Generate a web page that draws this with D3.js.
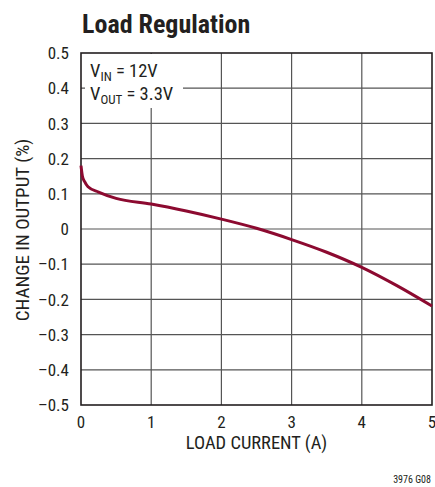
<!DOCTYPE html>
<html><head><meta charset="utf-8">
<script src="https://cdn.jsdelivr.net/npm/d3@7"></script>
<style>
body{margin:0;background:#fff;}
svg text{font-family:"Liberation Sans Narrow","Roboto Condensed","Arial Narrow",sans-serif;fill:#231f20;}
</style></head>
<body><svg id="c" width="435" height="487"></svg>
<script>
const loadCurrent = [0, 0.02, 0.05, 0.1, 0.25, 0.5, 1.0, 1.5, 2.0, 2.5, 3.0, 3.5, 4.0, 4.5, 5.0];
const changePct   = [0.18, 0.15, 0.135, 0.12, 0.105, 0.087, 0.071, 0.051, 0.028, 0.002, -0.030, -0.066, -0.109, -0.161, -0.219];
const xTicks = [0, 1, 2, 3, 4, 5];
const yTicks = [0.5, 0.4, 0.3, 0.2, 0.1, 0, -0.1, -0.2, -0.3, -0.4, -0.5];

const svg = d3.select("#c");
const L = 81, R = 432, T = 53, B = 405;
const x = d3.scaleLinear().domain([0, 5]).range([L, R]);
const y = d3.scaleLinear().domain([-0.5, 0.5]).range([B, T]);
const fmt = v => v === 0 ? "0" : (v < 0 ? "\u2013" + d3.format(".1f")(-v) : d3.format(".1f")(v));

const grid = svg.append("g").attr("stroke", "#555").attr("stroke-width", 1.2);
xTicks.slice(1, -1).forEach(t => grid.append("line").attr("x1", x(t)).attr("x2", x(t)).attr("y1", T).attr("y2", B));
yTicks.slice(1, -1).forEach(t => grid.append("line").attr("x1", L).attr("x2", R).attr("y1", y(t)).attr("y2", y(t)));

// white box behind the annotation
svg.append("rect").attr("x", L + 4).attr("y", T + 1).attr("width", 98).attr("height", 54).attr("fill", "#fff");

svg.append("rect").attr("x", L).attr("y", T).attr("width", R - L).attr("height", B - T)
  .attr("fill", "none").attr("stroke", "#231f20").attr("stroke-width", 1.6);

const line = d3.line().x((d, i) => x(loadCurrent[i])).y(d => y(d)).curve(d3.curveMonotoneX);
svg.append("path").datum(changePct).attr("d", line).attr("fill", "none")
  .attr("stroke", "#8c0a30").attr("stroke-width", 3).attr("stroke-linejoin", "round");

// axes labels
svg.append("g").selectAll("text").data(yTicks).join("text")
  .attr("x", 69).attr("y", d => y(d)).attr("dy", "0.36em").attr("text-anchor", "end")
  .attr("font-size", 17).text(fmt);
svg.append("g").selectAll("text").data(xTicks).join("text")
  .attr("x", d => x(d)).attr("y", 422).attr("dy", "0.36em").attr("text-anchor", "middle")
  .attr("font-size", 17).text(d => d);

svg.append("text").attr("x", (L + R) / 2).attr("y", 449).attr("text-anchor", "middle")
  .attr("font-size", 18.5).text("LOAD CURRENT (A)");
svg.append("text").attr("transform", `translate(22,${(T + B) / 2 + 1}) rotate(-90)`).attr("dy", "0.36em")
  .attr("text-anchor", "middle").attr("font-size", 19).text("CHANGE IN OUTPUT (%)");

svg.append("text").attr("x", 82).attr("y", 33).attr("font-size", 26).attr("font-weight", "bold")
  .text("Load Regulation");
svg.append("text").attr("x", 431).attr("y", 479).attr("dy", "0.36em").attr("text-anchor", "end")
  .attr("font-size", 10).text("3976 G08");

// annotation
const a1 = svg.append("text").attr("x", 90).attr("y", 77).attr("font-size", 18.5);
a1.append("tspan").text("V");
a1.append("tspan").attr("font-size", 13).attr("dy", 4).text("IN");
a1.append("tspan").attr("dy", -4).text(" = 12V");
const a2 = svg.append("text").attr("x", 90).attr("y", 100).attr("font-size", 18.5);
a2.append("tspan").text("V");
a2.append("tspan").attr("font-size", 13).attr("dy", 4).text("OUT");
a2.append("tspan").attr("dy", -4).text(" = 3.3V");
</script></body></html>
